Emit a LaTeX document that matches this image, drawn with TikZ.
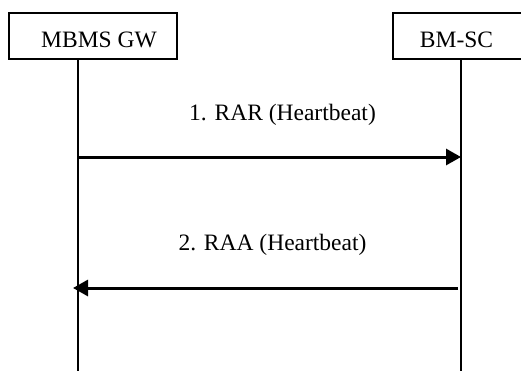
\documentclass[tikz,border=0pt]{standalone}
\usepackage{fontspec}
\setmainfont{Liberation Serif}
\usetikzlibrary{arrows.meta}
\begin{document}
\begin{tikzpicture}[x=1pt,y=-1pt,
  entity/.style={draw,line width=1.2pt,rectangle,inner sep=0pt},
  lbl/.style={inner sep=0pt,anchor=base,font=\fontsize{23.5}{28}\selectfont},
  life/.style={line width=1.3pt},
  msg/.style={line width=3pt,-{Triangle[length=15pt,width=16pt]}}]
\useasboundingbox (0,0) rectangle (521,370);
\clip (0,0) rectangle (521,370);
\fill[white] (0,0) rectangle (521,370);
% entity boxes
\node[entity,minimum width=168pt,minimum height=46pt] (gwbox) at (93,36) {};
\node[entity,minimum width=140pt,minimum height=46pt] (bmbox) at (463,36) {};
\node[lbl] (gwtxt) at (99,47) {MBMS GW};
\node[lbl] (bmtxt) at (456.5,47) {BM-SC};
% lifelines
\coordinate (gwtop) at (78,59);
\coordinate (gwbot) at (78,372);
\coordinate (bmtop) at (461,59);
\coordinate (bmbot) at (461,372);
\draw[life] (gwtop) -- (gwbot);
\draw[life] (bmtop) -- (bmbot);
% messages
\coordinate (m1s) at (78,157);
\coordinate (m1e) at (461,157);
\coordinate (m2s) at (458,288);
\coordinate (m2e) at (73,288);
\draw[msg] (m1s) -- (m1e);
\draw[msg] (m2s) -- (m2e);
\node[lbl] (l1) at (282.5,120) {1. RAR (Heartbeat)};
\node[lbl] (l2) at (272.5,250) {2. RAA (Heartbeat)};
\end{tikzpicture}
\end{document}
